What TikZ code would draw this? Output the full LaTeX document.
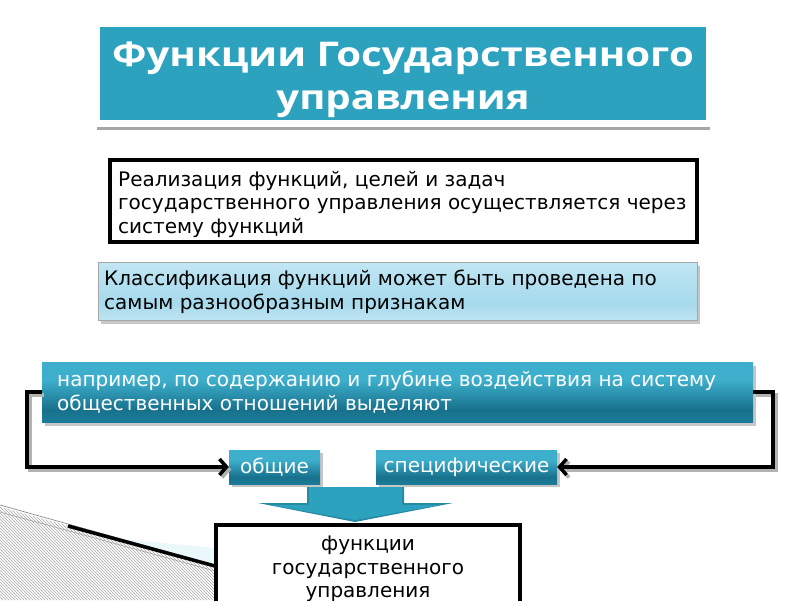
\documentclass[tikz,border=0pt]{standalone}
\usepackage{fontspec}
\setmainfont{DejaVu Sans}
\newfontfamily\titlefont[FakeStretch=1.18]{Open Sans}
\usetikzlibrary{arrows.meta,patterns,shadings}
\definecolor{titleteal}{HTML}{2DA2BF}
\definecolor{lightA}{HTML}{D4EEF8}
\definecolor{lightB}{HTML}{A6DAEC}
\definecolor{lightC}{HTML}{E4F5FB}
\definecolor{darkA}{HTML}{3DAECB}
\definecolor{darkB}{HTML}{17718C}
\definecolor{darkC}{HTML}{2A98B8}
\pgfdeclareverticalshading{glassdark}{100bp}{color(0bp)=(darkC); color(35bp)=(darkB); color(60bp)=(darkA); color(100bp)=(darkA)}
\pgfdeclareverticalshading{glasslight}{100bp}{color(0bp)=(lightC); color(40bp)=(lightB); color(100bp)=(lightA)}
\tikzset{
  titlebox/.style={fill=titleteal, minimum width=606pt, minimum height=93pt, inner sep=0pt},
  titletext/.style={text=white, inner sep=0pt, font=\titlefont\bfseries\fontsize{34}{43}\selectfont, align=center},
  framebox/.style={draw=black, line width=4pt, fill=white, inner sep=0pt},
  lightbox/.style={shading=glasslight, draw=gray!70, line width=0.6pt, inner sep=0pt},
  darkbox/.style={shading=glassdark, inner sep=0pt, text=white},
  txt/.style={font=\fontsize{20}{24}\selectfont},
  conn/.style={line width=4pt, -{Straight Barb[length=7pt,width=16pt,line width=3.5pt]}},
  connshadow/.style={line width=4pt, draw=gray!60, -{Straight Barb[length=7pt,width=16pt,line width=3.5pt]}},
}
\begin{document}
\begin{tikzpicture}[x=1pt,y=-1pt]
\useasboundingbox (0,0) rectangle (800,600);
\fill[white] (0,0) rectangle (800,600);
% left decoration
\fill[lightA!50] (110,538) -- (215,566) -- (215,548) -- cycle;
\fill[pattern=north west lines, pattern color=gray!70] (0,507) -- (215,566) -- (215,600) -- (0,600) -- cycle;
\draw[gray, line width=0.6pt] (0,505) -- (215,565);
\draw[gray!80, line width=0.5pt] (0,512) -- (215,571);
\draw[black, line width=3.5pt] (68,526) -- (215,566);
% title
\node[titlebox] (title) at (403,73.5) {};
\node[titletext] (titlet) at (403,80) {Функции Государственного\\управления};
\draw[gray!70, line width=3pt] (97,128) -- (710,128);
% box 1
\node[framebox, minimum width=587pt, minimum height=82pt] (b1) at (403.5,201) {};
\node[txt, anchor=north west, align=left, inner sep=0pt, font=\fontsize{20}{23.5}\selectfont] (b1t) at (118,171) {Реализация функций, целей и задач\\государственного управления осуществляется через\\систему функций};
% box 2
\fill[gray!45] (101,266) rectangle (700,324);
\node[lightbox, minimum width=599pt, minimum height=58pt] (b2) at (397.5,291) {};
\node[txt, anchor=north west, align=left, inner sep=0pt] (b2t) at (104,270) {Классификация функций может быть проведена по\\самым разнообразным признакам};
% box 3
\fill[gray!45] (45,366) rectangle (756,426);
\node[darkbox, minimum width=711pt, minimum height=60pt] (b3) at (397.5,392) {};
\node[txt, text=white, anchor=north west, align=left, inner sep=0pt] (b3t) at (57,371) {например, по содержанию и глубине воздействия на систему\\общественных отношений выделяют};
% small boxes
\fill[gray!45] (232,453) rectangle (323,487);
\fill[gray!45] (379,453) rectangle (560,487);
\node[darkbox, minimum width=91pt, minimum height=34pt, txt] (gen) at (274.5,467) {общие};
\node[darkbox, minimum width=181pt, minimum height=34pt, txt] (spec) at (466.5,467) {специфические};
% connectors
\coordinate (lc) at (27,392);
\coordinate (rc) at (773,392);
\draw[connshadow] ([shift={(2.5,2.5)}]b3.west) -- ([shift={(2.5,2.5)}]lc) |- ([shift={(2.5,2.5)}]gen.west);
\draw[connshadow] ([shift={(2.5,2.5)}]b3.east) -- ([shift={(2.5,2.5)}]rc) |- ([shift={(2.5,2.5)}]spec.east);
\draw[conn] (b3.west) -- (lc) |- (gen.west);
\draw[conn] (b3.east) -- (rc) |- (spec.east);
% block arrow
\fill[titleteal!85!black] (307,487) -- (404,487) -- (404,503) -- (453,503) -- (355,522) -- (258,503) -- (307,503) -- cycle;
\fill[titleteal] (309,487) -- (402,487) -- (402,505) -- (440,505) -- (355,520) -- (270,505) -- (309,505) -- cycle;
% bottom box
\node[framebox, minimum width=304pt, minimum height=90pt] (b4) at (368,570) {};
\node[txt, align=center, anchor=north, inner sep=0pt, font=\fontsize{20}{23.5}\selectfont] (b4t) at (368,536) {функции\\государственного\\управления};
\end{tikzpicture}
\end{document}
